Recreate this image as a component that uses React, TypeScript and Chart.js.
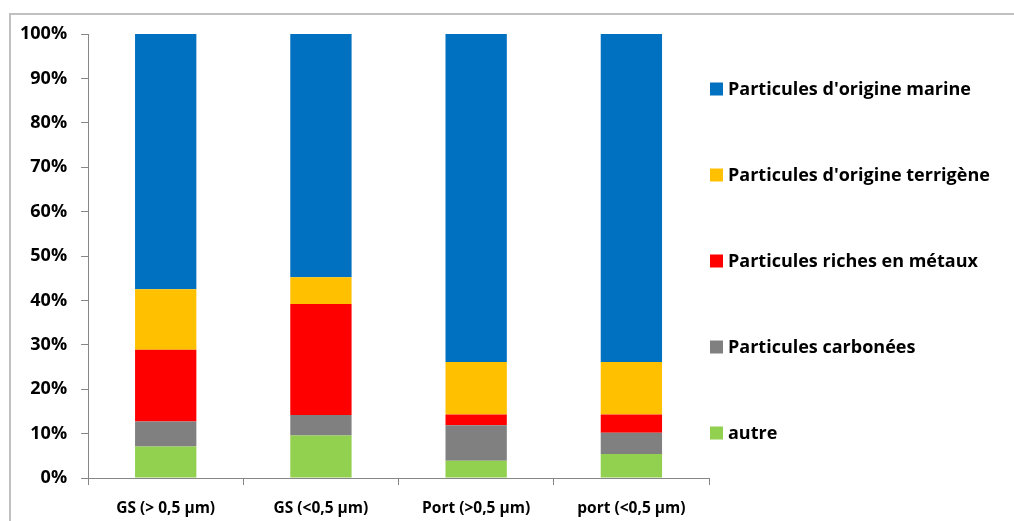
import React, { useEffect, useRef } from "react";
import { Chart, registerables } from "chart.js";

Chart.register(...registerables);

const categories = ["GS (> 0,5 µm)", "GS (<0,5 µm)", "Port (>0,5 µm)", "port (<0,5 µm)"];

// stacked from the bottom up
const autre = [7.1, 9.6, 3.9, 5.4];
const carbonees = [5.6, 4.6, 8.0, 4.8];
const metaux = [16.2, 25.0, 2.4, 4.1];
const terrigene = [13.6, 6.0, 11.8, 11.8];
const marine = [57.5, 54.8, 73.9, 73.9];

const yTicks = [0, 10, 20, 30, 40, 50, 60, 70, 80, 90, 100];

const FONT = "'Open Sans', Lato, sans-serif";

const seriesDefs = [
  { label: "autre", data: autre, color: "#92D050" },
  { label: "Particules carbonées", data: carbonees, color: "#808080" },
  { label: "Particules riches en métaux", data: metaux, color: "#FF0000" },
  { label: "Particules d'origine terrigène", data: terrigene, color: "#FFC000" },
  { label: "Particules d'origine marine", data: marine, color: "#0070C0" },
];

const decorPlugin = {
  id: "decor",
  beforeDraw(chart: any) {
    const { ctx, width, height } = chart;
    ctx.save();
    ctx.strokeStyle = "#c0c0c0";
    ctx.lineWidth = 2;
    ctx.beginPath();
    ctx.moveTo(width, 14);
    ctx.lineTo(10, 14);
    ctx.lineTo(10, height);
    ctx.stroke();
    ctx.restore();
  },
  afterDraw(chart: any) {
    const { ctx, chartArea } = chart;
    const items = [...chart.data.datasets].reverse();
    ctx.save();
    ctx.font = `bold 18px ${FONT}`;
    ctx.textBaseline = "middle";
    ctx.textAlign = "left";
    items.forEach((ds: any, i: number) => {
      const cy = chartArea.top + 55 + i * 86;
      const bx = chartArea.right + 1;
      ctx.fillStyle = ds.backgroundColor;
      ctx.fillRect(bx, cy - 6.5, 13, 13);
      ctx.fillStyle = "#000000";
      ctx.fillText(ds.label, bx + 18, cy + 1);
    });
    ctx.restore();
  },
};

export default function App() {
  const canvasRef = useRef<HTMLCanvasElement | null>(null);

  useEffect(() => {
    if (!canvasRef.current) return;
    const chart = new Chart(canvasRef.current, {
      type: "bar",
      data: {
        labels: categories,
        datasets: seriesDefs.map((s) => ({
          label: s.label,
          data: s.data,
          backgroundColor: s.color,
          borderWidth: 0,
          categoryPercentage: 0.395,
          barPercentage: 1,
        })),
      },
      plugins: [decorPlugin],
      options: {
        animation: false,
        responsive: true,
        maintainAspectRatio: false,
        layout: { padding: { left: 6, right: 305, top: 34, bottom: 0 } },
        plugins: {
          legend: { display: false },
          tooltip: { enabled: false },
        },
        scales: {
          x: {
            stacked: true,
            afterFit: (scale: any) => {
              scale.height = 43;
            },
            grid: {
              offset: true,
              drawOnChartArea: false,
              drawTicks: true,
              tickLength: 7,
              color: "#868686",
            },
            border: { display: true, color: "#868686", width: 1 },
            ticks: {
              color: "#000000",
              font: { family: FONT, size: 15.5, weight: "bold" },
              padding: 14,
              maxRotation: 0,
            },
          },
          y: {
            stacked: true,
            min: 0,
            max: 100,
            afterBuildTicks: (scale: any) => {
              scale.ticks = yTicks.map((v) => ({ value: v }));
            },
            grid: {
              drawOnChartArea: false,
              drawTicks: true,
              tickLength: 7,
              color: "#868686",
            },
            border: { display: true, color: "#868686", width: 1 },
            ticks: {
              color: "#000000",
              font: { family: FONT, size: 18, weight: "bold" },
              padding: 14,
              callback: (v: any) => `${v}%`,
            },
          },
        },
      },
    });
    return () => chart.destroy();
  }, []);

  return (
    <div style={{ position: "absolute", left: 0, top: 0, width: 1014, height: 521 }}>
      <canvas ref={canvasRef} />
    </div>
  );
}
